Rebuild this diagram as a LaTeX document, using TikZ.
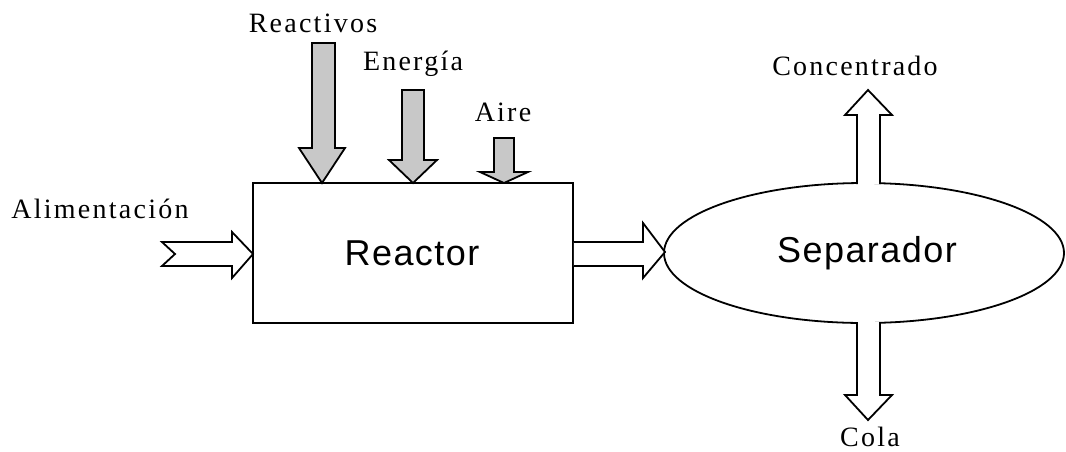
\documentclass[tikz,border=0pt]{standalone}
\usepackage{fontspec}
\setmainfont{Liberation Serif}
\newfontfamily\labfont[LetterSpace=8]{Liberation Serif}
\newfontfamily\boxfont[LetterSpace=4]{Liberation Sans}
\definecolor{arrgray}{RGB}{200,200,200}
\begin{document}
\begin{tikzpicture}[x=1pt,y=-1pt,
  lab/.style={font=\labfont\fontsize{28}{30}\selectfont, inner sep=0pt},
  boxlab/.style={font=\boxfont\fontsize{36}{38}\selectfont, inner sep=0pt},
  garrow/.style={draw=black, fill=arrgray, line width=1.8pt, line join=miter},
  warrow/.style={draw=black, fill=white, line width=1.8pt, line join=miter},
  unit/.style={draw=black, line width=1.8pt}]
\useasboundingbox (0,0) rectangle (1066,451);

% reactor box
\node[unit, minimum width=320pt, minimum height=140pt, inner sep=0pt] (reactor) at (413,253) {};
\node[boxlab] (reactortxt) at (412,253) {Reactor};

% separator ellipse
\draw[unit] (864,253) ellipse [x radius=200pt, y radius=70pt];
\coordinate (sep) at (864,253);
\node[boxlab] (septxt) at (867,253) {Separador};

% gray input arrows (Reactivos, Energía, Aire)
\draw[garrow] (312,43) -- (335,43) -- (335,148) -- (345,148) -- (322,183) -- (299,148) -- (312,148) -- cycle;
\draw[garrow] (402,90) -- (424,90) -- (424,160) -- (437,160) -- (413,183) -- (389,160) -- (402,160) -- cycle;
\draw[garrow] (494,138) -- (514,138) -- (514,172) -- (528,172) -- (504,183) -- (480,172) -- (494,172) -- cycle;

\node[lab] (reactivos) at (313,23) {Reactivos};
\node[lab] (energia) at (413,64) {Energía};
\node[lab] (aire) at (503,112) {Aire};

% feed arrow
\draw[warrow] (162,242) -- (232,242) -- (232,232) -- (253,254) -- (232,278) -- (232,266) -- (162,266) -- (175,254) -- cycle;
\node[lab] (alim) at (100,209) {Alimentación};

% reactor to separator arrow
\draw[warrow] (reactor.east |- 0,242) -- (643,242) -- (643,223) -- (665,252) -- (643,278) -- (643,266) -- (reactor.east |- 0,266);

% concentrado arrow
\draw[warrow] (857,184) -- (857,115) -- (845,115) -- (868,90) -- (892,115) -- (880,115) -- (880,184);
\node[lab] (conc) at (855,66) {Concentrado};

% cola arrow
\draw[warrow] (857,322) -- (857,395) -- (845,395) -- (868,420) -- (892,395) -- (880,395) -- (880,322);
\node[lab] (cola) at (870,437) {Cola};
\end{tikzpicture}
\end{document}
